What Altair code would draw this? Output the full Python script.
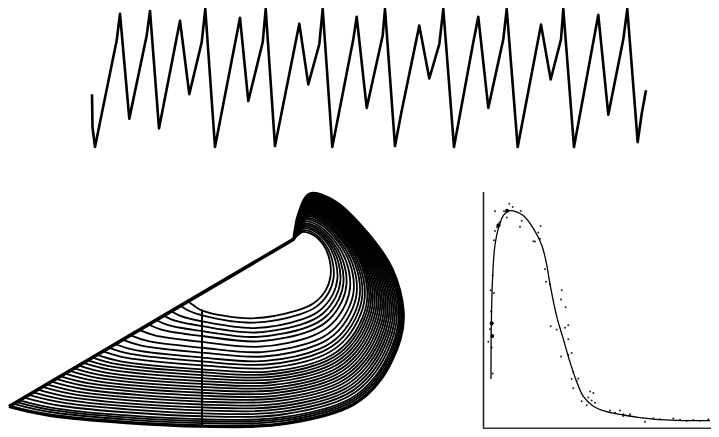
import altair as alt
import pandas as pd

# ---------------- time series (top) ----------------
ts_x = [92, 92.5, 95, 116.7, 120, 129.3, 146.7, 150, 159, 180, 189.3, 201.7, 205.3, 215,
        240, 248.3, 262.7, 265.7, 275, 299.3, 308.3, 319.3, 322.7, 332.3, 353.3, 356.7,
        366.7, 382.7, 385, 395, 401.7, 419.3, 429.3, 439.3, 443.3, 454, 473.3, 478.3,
        488.3, 503.3, 506.7, 517.7, 541, 550.7, 561, 563.3, 574, 598.3, 608.3, 623.3,
        627.3, 637.7, 641.7, 646]
ts_y = [93, 127, 147, 38, 11, 118, 33, 8, 128, 18, 93, 40, 6, 147,
        15, 100, 40, 6, 146, 21, 83, 42, 6, 147, 37, 14,
        107, 33, 6, 146, 110, 23, 77, 42, 6, 147, 40, 14,
        107, 37, 6, 147, 22, 78, 37, 6, 147, 12, 114, 37,
        6, 142, 113, 89]

# ---------------- attractor (bottom left) ----------------
outer_x = [9, 50, 202, 287, 353, 380, 400, 403, 392, 368, 335, 310, 299, 294]
outer_y = [412, 421, 432, 429, 410, 385, 343, 315, 272, 236, 203, 195, 215, 241]
inner_x = [190, 195, 202, 250, 297, 313, 325, 330, 329, 323, 313, 303, 298, 294]
inner_y = [304, 308, 313, 321, 313, 306, 293, 278, 262, 247, 237, 234, 237, 241]
crossing_y = [314, 319, 325, 330, 335, 340, 346, 352, 357, 362, 366, 370, 374, 377,
              380, 383, 386, 389, 392, 395, 398, 401, 404, 407, 410, 413, 416, 419,
              422, 425, 427, 429]
inner_level = 313
outer_level = 432
section_x = 202
section_y = [313, 433]

# ---------------- return map (bottom right) ----------------
rm_curve_x = [491, 491.3, 492.7, 495, 499.3, 504, 510, 517, 523.3, 533.3, 541.7, 546.7,
              550, 556.7, 563.3, 570, 576.7, 583.3, 593.3, 606.7, 623.3, 640, 670, 710]
rm_curve_y = [384, 330, 278, 247, 227, 216, 212, 213.5, 217, 230, 247, 267,
              287, 320, 343, 366.7, 386.7, 401.7, 411.7, 417.3, 420.7, 423.3, 426, 426.5]
rm_pts_x = [509.3, 512.7, 495, 520.7, 506.7, 521.7, 520, 498.3, 499.5, 497, 495, 540.7,
            538.3, 533.3, 535, 540, 494, 545, 550, 492.7, 506.7, 504, 508,
            494, 490.7, 491.7, 491.7, 492.3, 488.3, 491.7, 492.7, 491, 490,
            546, 561.7, 561, 565.7, 550.7, 556.7, 568.3, 565, 568.3, 561, 571.7, 568.3,
            573.3, 578.3, 571.7, 576.7, 573.3, 590, 593.3, 588.3, 591.7, 581.7, 586.7,
            595, 610, 620, 615, 623.3, 630, 623.3, 630, 645, 653.3, 673.3, 686.7,
            693.3, 700, 708.3, 660, 680]
rm_pts_y = [205, 208.3, 212.7, 212.3, 219, 222.3, 228.3, 226.7, 224, 229, 232.7, 227.7,
            234.3, 243.3, 243.5, 240.7, 242.3, 271.7, 287.3, 278.3, 212.3, 212.7, 212,
            296, 293.3, 326.7, 328.5, 340, 346, 351.7, 378.3, 315, 333,
            284.7, 293.3, 302.7, 310.7, 330, 333.3, 329, 331.7, 343.3, 361, 357.3, 359.3,
            376.7, 383.3, 384, 386, 393.3, 396.7, 398.3, 402.7, 406, 406.7, 410.7,
            408.3, 416, 416, 418.3, 421.7, 420, 420, 421.7, 427.7, 424, 424.3, 426.7,
            425.7, 426.7, 425, 425, 425.5]
rm_blob_x = [498.5, 507, 491.7, 492.2]
rm_blob_y = [227, 212, 327, 340]
rm_axis_x = 483.5
rm_axis_top = 193
rm_axis_bottom = 434.3
rm_axis_right = 719

# ---------------- build tables ----------------
ts_df = pd.DataFrame({"x": ts_x, "y": ts_y, "i": range(len(ts_x))})

rows = []
for k, cy in enumerate(crossing_y):
    t = (cy - inner_level) / (outer_level - inner_level)
    for i in range(len(outer_x)):
        rows.append({"loop": k, "i": i,
                     "x": inner_x[i] + t * (outer_x[i] - inner_x[i]),
                     "y": inner_y[i] + t * (outer_y[i] - inner_y[i])})
loops_df = pd.DataFrame(rows)
outer_df = pd.DataFrame({"x": outer_x, "y": outer_y, "i": range(len(outer_x))})
sheet_df = pd.DataFrame({"x": [outer_x[0], outer_x[-1]], "y": [outer_y[0], outer_y[-1]], "i": [0, 1]})
section_df = pd.DataFrame({"x": [section_x], "y": [section_y[0]], "y2": [section_y[1]]})

rm_curve_df = pd.DataFrame({"x": rm_curve_x, "y": rm_curve_y, "i": range(len(rm_curve_x))})
rm_pts_df = pd.DataFrame({"x": rm_pts_x, "y": rm_pts_y})
rm_blob_df = pd.DataFrame({"x": rm_blob_x, "y": rm_blob_y})
rm_vaxis_df = pd.DataFrame({"x": [rm_axis_x], "y": [rm_axis_top], "y2": [rm_axis_bottom]})
rm_haxis_df = pd.DataFrame({"x": [rm_axis_x - 0.5], "x2": [rm_axis_right], "y": [rm_axis_bottom]})

X = alt.X("x:Q", scale=alt.Scale(domain=[8, 711], nice=False, zero=False), axis=None)
Y = alt.Y("y:Q", scale=alt.Scale(domain=[5, 435], reverse=True, nice=False, zero=False), axis=None)

ts = alt.Chart(ts_df).mark_line(color="black", strokeWidth=2.6, strokeJoin="round").encode(
    x=X, y=Y, order="i:Q")

loops = alt.Chart(loops_df).mark_line(color="black", strokeWidth=1.8,
                                      interpolate="catmull-rom").encode(
    x=X, y=Y, order="i:Q", detail="loop:N")
outer = alt.Chart(outer_df).mark_line(color="black", strokeWidth=3.4,
                                      interpolate="catmull-rom").encode(
    x=X, y=Y, order="i:Q")
sheet = alt.Chart(sheet_df).mark_line(color="black", strokeWidth=3.5).encode(
    x=X, y=Y, order="i:Q")
section = alt.Chart(section_df).mark_rule(color="black", strokeWidth=2).encode(
    x=X, y=Y, y2="y2:Q")

rm_v = alt.Chart(rm_vaxis_df).mark_rule(color="#222", strokeWidth=1.6).encode(
    x=X, y=Y, y2="y2:Q")
rm_h = alt.Chart(rm_haxis_df).mark_rule(color="#333", strokeWidth=1.6).encode(
    x=X, x2="x2:Q", y=Y)
rm_curve = alt.Chart(rm_curve_df).mark_line(color="black", strokeWidth=1.3,
                                            interpolate="catmull-rom").encode(
    x=X, y=Y, order="i:Q")
rm_pts = alt.Chart(rm_pts_df).mark_circle(color="black", size=4, opacity=0.85).encode(x=X, y=Y)
rm_blobs = alt.Chart(rm_blob_df).mark_circle(color="black", size=16, opacity=1).encode(x=X, y=Y)

chart = alt.layer(ts, loops, outer, sheet, section, rm_v, rm_h, rm_curve, rm_pts, rm_blobs).properties(
    width=703, height=421, padding=0,
    autosize=alt.AutoSizeParams(type="none"),
).configure_view(stroke=None)

chart.save("out.html", embed_options={"renderer": "svg", "actions": False})
